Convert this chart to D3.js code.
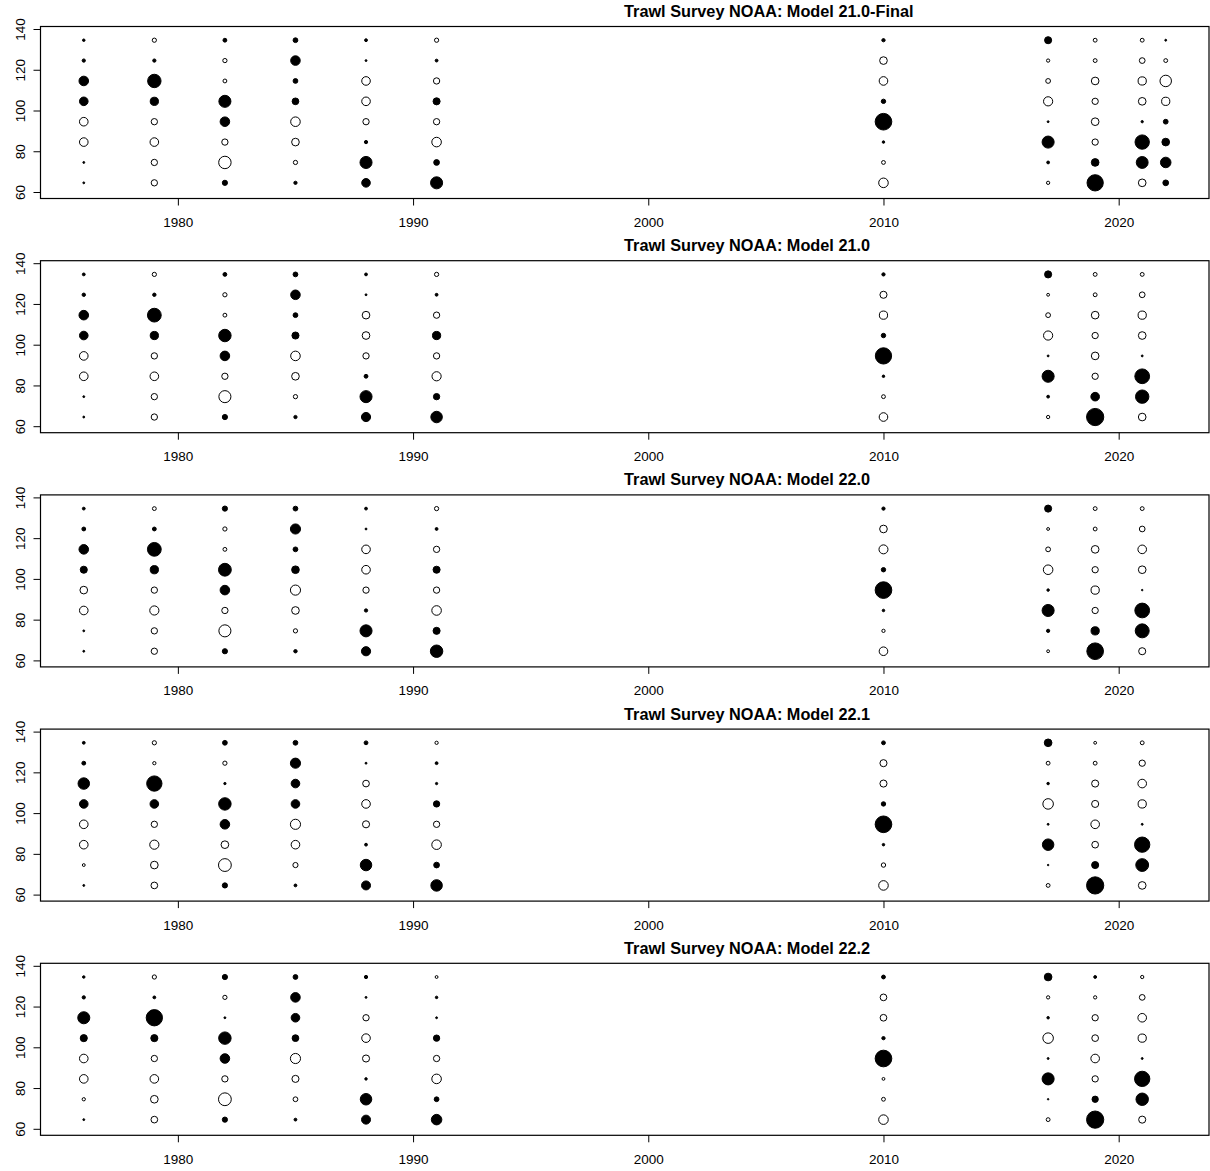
<!DOCTYPE html>
<html>
<head>
<meta charset="utf-8">
<script src="https://cdn.jsdelivr.net/npm/d3@7"></script>
<style>
  html, body { margin: 0; padding: 0; background: #fff; }
  svg { display: block; }
  text { font-family: "Liberation Sans", Arial, sans-serif; fill: #000; }
</style>
</head>
<body>
<div id="chart"></div>
<script>
// Length bins (rows of every panel), bottom to top
const lengthBins = [64.5, 74.5, 84.5, 94.5, 104.5, 114.5, 124.5, 134.5];

// Survey years
const yearsFinal = [1976, 1979, 1982, 1985, 1988, 1991, 2010, 2017, 2019, 2021, 2022];
const yearsModels = [1976, 1979, 1982, 1985, 1988, 1991, 2010, 2017, 2019, 2021];

// Axis ticks
const xTicks = [1980, 1990, 2000, 2010, 2020];
const yTicks = [60, 80, 100, 120, 140];

// Pearson residuals: one row per year, one value per length bin (bottom to top)
const residFinal = [
  [0.08, 0.08, -1.65, -1.65, 1.65, 2.04, 0.24, 0.14],
  [-0.89, -0.89, -1.65, -0.89, 1.51, 4.00, 0.24, -0.40],
  [0.60, -3.45, -0.89, 2.04, 3.24, -0.33, -0.40, 0.33],
  [0.24, -0.40, -1.31, -2.04, 1.00, 0.51, 2.04, 0.51],
  [1.65, 3.24, 0.24, -0.89, -1.65, -1.65, 0.08, 0.18],
  [3.24, 0.73, -2.04, -0.89, 1.12, -0.89, 0.18, -0.40],
  [-2.04, -0.33, 0.14, 6.18, 0.43, -1.65, -1.31, 0.24],
  [-0.24, 0.18, 3.24, 0.08, -1.88, -0.51, -0.24, 1.12],
  [5.90, 1.31, -0.89, -1.31, -0.89, -1.31, -0.33, -0.33],
  [-1.31, 3.14, 4.59, 0.12, -1.31, -1.51, -0.73, -0.33],
  [0.73, 2.47, 1.31, 0.51, -1.51, -2.94, -0.33, 0.08]
];

const resid210 = [
  [0.08, 0.08, -1.65, -1.65, 1.65, 2.04, 0.26, 0.18],
  [-0.89, -0.89, -1.65, -0.89, 1.51, 4.23, 0.26, -0.40],
  [0.60, -3.24, -0.89, 2.04, 3.45, -0.33, -0.40, 0.33],
  [0.24, -0.40, -1.31, -2.04, 1.12, 0.51, 2.04, 0.51],
  [1.88, 3.24, 0.33, -0.89, -1.31, -1.31, 0.08, 0.18],
  [2.94, 0.89, -1.88, -0.89, 1.51, -0.89, 0.18, -0.40],
  [-1.65, -0.33, 0.14, 5.90, 0.43, -1.51, -1.12, 0.24],
  [-0.24, 0.18, 3.24, 0.08, -1.88, -0.51, -0.18, 1.12],
  [6.61, 1.65, -0.89, -1.31, -0.89, -1.31, -0.33, -0.33],
  [-1.31, 4.00, 4.84, 0.08, -1.31, -1.51, -0.73, -0.33]
];

const resid220 = [
  [0.08, 0.08, -1.65, -1.31, 1.12, 2.04, 0.33, 0.18],
  [-0.89, -0.89, -1.88, -0.89, 1.51, 4.23, 0.33, -0.33],
  [0.60, -3.24, -0.89, 2.04, 3.66, -0.33, -0.40, 0.60],
  [0.26, -0.40, -1.31, -2.29, 1.31, 0.51, 2.29, 0.51],
  [1.88, 3.24, 0.24, -0.89, -1.65, -1.65, 0.08, 0.18],
  [3.45, 1.12, -2.04, -0.89, 1.12, -0.89, 0.18, -0.40],
  [-1.65, -0.24, 0.14, 6.18, 0.43, -1.80, -1.31, 0.24],
  [-0.18, 0.24, 3.24, 0.14, -2.04, -0.51, -0.18, 1.12],
  [6.18, 1.51, -0.89, -1.51, -0.89, -1.31, -0.33, -0.33],
  [-1.12, 4.35, 4.84, 0.05, -1.31, -1.65, -0.73, -0.33]
];

const resid221 = [
  [0.08, -0.18, -1.65, -1.65, 1.65, 2.94, 0.33, 0.18],
  [-1.00, -1.31, -1.88, -0.89, 1.65, 5.22, -0.24, -0.40],
  [0.60, -3.66, -1.31, 2.04, 3.45, 0.12, -0.40, 0.51],
  [0.18, -0.60, -1.65, -2.29, 1.65, 1.65, 2.29, 0.51],
  [1.80, 2.94, 0.18, -1.12, -1.65, -1.00, 0.08, 0.33],
  [2.94, 0.73, -2.04, -0.89, 0.89, 0.12, 0.18, -0.24],
  [-2.04, -0.43, 0.14, 6.18, 0.43, -1.12, -1.12, 0.33],
  [-0.33, 0.05, 2.94, 0.08, -2.47, 0.14, -0.33, 1.31],
  [6.61, 1.12, -1.00, -1.65, -1.12, -1.12, -0.33, -0.18],
  [-1.31, 3.66, 5.22, 0.08, -1.51, -1.65, -0.89, -0.33]
];

const resid222 = [
  [0.08, -0.24, -1.65, -1.65, 1.12, 3.24, 0.24, 0.14],
  [-1.00, -1.31, -1.65, -0.89, 1.12, 5.90, 0.18, -0.40],
  [0.60, -3.66, -0.89, 2.04, 3.45, 0.08, -0.40, 0.60],
  [0.18, -0.51, -1.12, -2.29, 1.00, 1.65, 2.04, 0.51],
  [1.80, 2.94, 0.14, -1.12, -1.65, -0.89, 0.08, 0.24],
  [2.47, 0.51, -2.04, -0.89, 0.89, 0.08, 0.14, -0.18],
  [-2.04, -0.33, -0.18, 6.18, 0.24, -1.00, -1.00, 0.33],
  [-0.33, 0.05, 3.24, 0.08, -2.47, 0.14, -0.24, 1.31],
  [6.61, 0.89, -0.89, -1.65, -1.00, -0.89, -0.24, 0.18],
  [-1.12, 3.45, 5.22, 0.08, -1.51, -1.65, -0.73, -0.24]
];

const panelTitles = [
  "Trawl Survey NOAA: Model 21.0-Final",
  "Trawl Survey NOAA: Model 21.0",
  "Trawl Survey NOAA: Model 22.0",
  "Trawl Survey NOAA: Model 22.1",
  "Trawl Survey NOAA: Model 22.2"
];

const panels = [
  { title: panelTitles[0], years: yearsFinal, resid: residFinal },
  { title: panelTitles[1], years: yearsModels, resid: resid210 },
  { title: panelTitles[2], years: yearsModels, resid: resid220 },
  { title: panelTitles[3], years: yearsModels, resid: resid221 },
  { title: panelTitles[4], years: yearsModels, resid: resid222 }
];

const W = 1210, H = 1171;
const panelH = H / panels.length;
const plotLeft = 40.5, plotRight = 1209;
const boxTop = 26, boxBottom = 198;

const svg = d3.select("#chart").append("svg")
  .attr("width", W).attr("height", H);

const x = d3.scaleLinear().domain([1974.16, 2023.84]).range([plotLeft, plotRight]);
const r = d3.scaleSqrt().domain([0, 1]).range([0, 3.35]);

panels.forEach((p, i) => {
  const top = i * panelH;
  const g = svg.append("g").attr("transform", `translate(0,${top})`);
  const y = d3.scaleLinear().domain([60, 140]).range([192, 29]);

  // bubbles
  const pts = [];
  p.years.forEach((yr, j) => {
    p.resid[j].forEach((v, k) => pts.push({ year: yr, len: lengthBins[k], v }));
  });
  g.append("g").selectAll("circle").data(pts).join("circle")
    .attr("cx", d => x(d.year))
    .attr("cy", d => y(d.len))
    .attr("r", d => r(Math.abs(d.v)))
    .attr("fill", d => d.v > 0 ? "#000" : "#fff")
    .attr("stroke", "#000")
    .attr("stroke-width", 1);

  // plot frame
  g.append("rect")
    .attr("x", plotLeft).attr("y", boxTop + 0.5)
    .attr("width", plotRight - plotLeft).attr("height", boxBottom - boxTop)
    .attr("fill", "none").attr("stroke", "#000").attr("stroke-width", 1.2);

  // x axis
  const xa = g.append("g").attr("transform", `translate(0,${boxBottom + 0.5})`)
    .call(d3.axisBottom(x).tickValues(xTicks).tickFormat(d3.format("d")).tickSize(7).tickPadding(12));
  xa.select(".domain").remove();
  xa.selectAll("text").attr("font-size", 13.5).attr("font-family", "Liberation Sans, Arial, sans-serif");

  // y axis with labels parallel to the axis
  const ya = g.append("g").attr("transform", `translate(${plotLeft},0)`)
    .call(d3.axisLeft(y).tickValues(yTicks).tickSize(7));
  ya.select(".domain").remove();
  ya.selectAll("text")
    .attr("font-size", 13.5)
    .attr("font-family", "Liberation Sans, Arial, sans-serif")
    .attr("x", null).attr("y", null).attr("dy", null)
    .attr("text-anchor", "middle")
    .attr("transform", `translate(${25 - plotLeft},0) rotate(-90)`);

  // panel title
  g.append("text")
    .attr("x", 624).attr("y", 17)
    .attr("font-size", 16.3).attr("font-weight", "bold")
    .text(p.title);
});
</script>
</body>
</html>
